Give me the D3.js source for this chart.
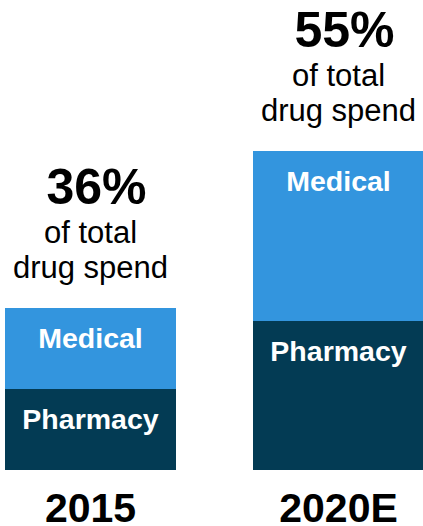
<!DOCTYPE html>
<html>
<head>
<meta charset="utf-8">
<script src="https://cdn.jsdelivr.net/npm/d3@7"></script>
<style>
  html, body { margin: 0; padding: 0; background: #ffffff; }
  svg { display: block; }
  text { font-family: "Liberation Sans", Arial, sans-serif; }
</style>
</head>
<body>
<svg id="chart" width="423" height="526"></svg>
<script>
const categories = ["2015", "2020E"];
const pharmacyValues = [40.5, 74.5];
const medicalValues = [40.5, 85];
const shareLabels = ["36%", "55%"];
const subtitleLines = ["of total", "drug spend"];
const seriesNames = ["Pharmacy", "Medical"];

const colors = { Pharmacy: "#033b54", Medical: "#3395de" };

const W = 423, H = 526;
const svg = d3.select("#chart");

const x = d3.scaleBand().domain(categories).range([5, 424]).paddingInner(0.3105).paddingOuter(0);
const y = d3.scaleLinear().domain([0, 235]).range([470, 0]);

const rows = categories.map((c, i) => ({ cat: c, Pharmacy: pharmacyValues[i], Medical: medicalValues[i], share: shareLabels[i] }));
const stack = d3.stack().keys(seriesNames)(rows);

const layers = svg.selectAll("g.layer").data(stack).join("g").attr("class", "layer")
  .attr("fill", d => colors[d.key]);

layers.selectAll("rect").data(d => d).join("rect")
  .attr("x", d => x(d.data.cat))
  .attr("width", x.bandwidth())
  .attr("y", d => y(d[1]))
  .attr("height", d => y(d[0]) - y(d[1]));

// segment labels
stack.forEach(layer => {
  svg.selectAll(null).data(layer).join("text")
    .attr("x", d => x(d.data.cat) + x.bandwidth() / 2)
    .attr("y", d => y(d[1]) + 39.5)
    .attr("text-anchor", "middle")
    .attr("fill", "#ffffff")
    .attr("font-weight", "bold")
    .attr("font-size", 28.5)
    .text(layer.key);
});

// share labels above bars
const tops = rows.map(r => ({ cat: r.cat, top: y(r.Pharmacy + r.Medical), share: r.share }));
svg.selectAll("text.share").data(tops).join("text").attr("class", "share")
  .attr("x", d => x(d.cat) + x.bandwidth() / 2 + 6)
  .attr("y", d => d.top - 104)
  .attr("text-anchor", "middle")
  .attr("fill", "#000")
  .attr("font-weight", "bold")
  .attr("font-size", 50)
  .text(d => d.share);

subtitleLines.forEach((line, li) => {
  svg.selectAll(null).data(tops).join("text")
    .attr("x", d => x(d.cat) + x.bandwidth() / 2)
    .attr("y", d => d.top - (li === 0 ? 65 : 30))
    .attr("text-anchor", "middle")
    .attr("fill", "#000")
    .attr("font-size", 31)
    .text(line);
});

// category axis labels
svg.selectAll("text.cat").data(categories).join("text").attr("class", "cat")
  .attr("x", d => x(d) + x.bandwidth() / 2)
  .attr("y", 522)
  .attr("text-anchor", "middle")
  .attr("fill", "#000")
  .attr("font-weight", "bold")
  .attr("font-size", 41)
  .text(d => d);
</script>
</body>
</html>
